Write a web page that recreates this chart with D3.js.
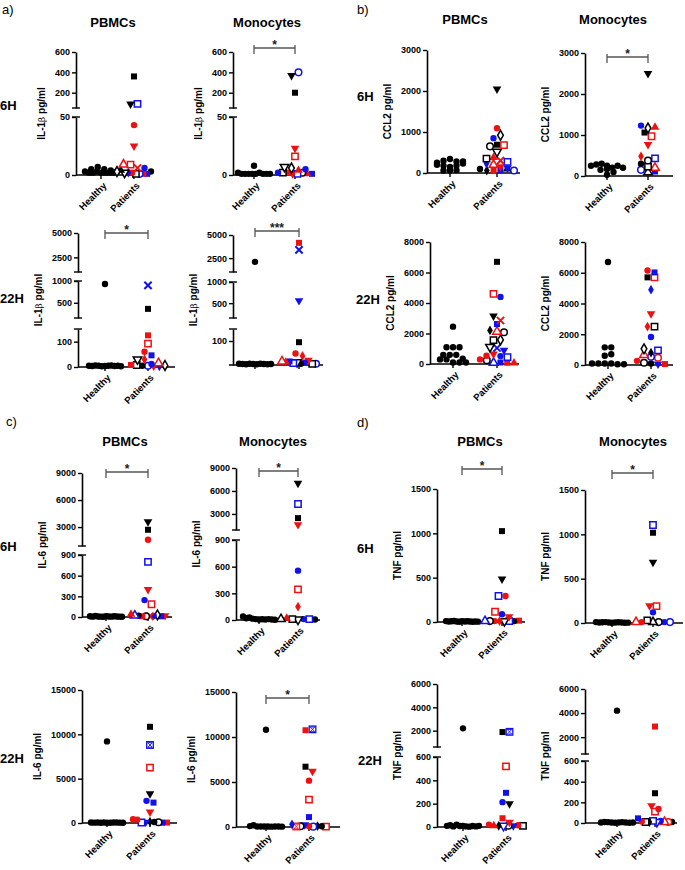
<!DOCTYPE html>
<html><head><meta charset="utf-8">
<script src="https://cdn.jsdelivr.net/npm/d3@7"></script>
<style>
body{margin:0;background:#fff}
svg{display:block}
text{font-family:Arial,"Liberation Sans",sans-serif}
</style>
</head><body>
<svg id="c" width="685" height="870"></svg>
<script>
// ---------------- DATA ----------------
// marker code: colour (k black, r red, b blue) + shape
// s filled square, S open square, o filled circle, O open circle, v filled tri-down, V open tri-down,
// ^ filled tri-up, A open tri-up, d filled diamond, D open diamond, x cross, X boxed hourglass
const groups = ["Healthy", "Patients"];

// a) IL-1β
const a6P_healthy = [5,3,2,2,3,2,2,7,2,2,5,3,4];
const a6P_patients = [["ks",360],["kv",90],["bS",90],["ro",43],["rv",25],["rA",9],["rS",9],["rx",6],["bo",6],["kD",3],["k^",4],["kV",2],["bd",2],["ro",2],["kS",1],["bO",1],["rs",1],["bs",1],["ko",3]];
const a6M_healthy = [2,1,1,8,1,1,1,2,1,1,1];
const a6M_patients = [["kv",370],["bO",400],["ks",200],["rv",23],["rS",16],["kV",7],["kD",6],["r^",4],["bo",5],["bo",2],["kS",2],["ro",2],["rd",1],["bS",1],["kO",2],["r^",1],["bs",1]];
const a22P_healthy = [930,5,4,6,5,3,4,5,6,4,5,3];
const a22P_patients = [["bx",900],["ks",360],["rs",125],["rS",92],["ro",60],["bs",46],["kV",30],["rd",30],["bo",12],["rA",15],["rs",8],["kS",8],["ko",5],["bO",5],["rv",4],["bv",3],["kD",6]];
const a22M_healthy = [2100,5,4,3,5,4,3,5,4,3,4];
const a22M_patients = [["rs",4150],["bx",3400],["bv",560],["ks",95],["ro",48],["rd",38],["rA",15],["r^",12],["bs",15],["bS",8],["kV",12],["ko",5],["bo",10],["rv",20],["kS",5],["bO",5]];

// b) CCL2
const b6P_healthy = [250,300,340,200,280,180,150,60,60,70,180,280,230];
const b6P_patients = [["kv",2050],["ro",1090],["bo",850],["kD",920],["kO",650],["ks",690],["rS",680],["kV",520],["kS",350],["r^",380],["rx",300],["bd",230],["bS",270],["rA",200],["rv",150],["bv",120],["ko",100],["kd",60],["rs",50],["bs",70],["k^",100],["bO",60]];
const b6M_healthy = [150,250,280,300,250,200,170,100,250,200,30];
const b6M_patients = [["kv",2500],["bo",1230],["kD",1170],["r^",1190],["ks",1060],["rS",970],["rv",770],["rd",480],["kO",380],["ko",300],["bS",430],["kS",230],["rA",200],["bO",150],["kA",90],["bs",110]];
const b22P_healthy = [2450,1100,1100,1100,600,600,600,300,300,350,100,100,100];
const b22P_patients = [["ks",6700],["rS",4600],["bo",4400],["kv",3150],["rx",2850],["bs",2620],["kd",2200],["rA",2120],["kO",2080],["kS",1560],["kD",1580],["kV",1120],["bx",1050],["bv",900],["ro",540],["rv",650],["bo",520],["bS",450],["ro",300],["kO",250],["bA",80],["bs",100],["rs",80],["r^",60]];
const b22M_healthy = [6700,1150,1150,600,700,100,100,100,100,50,50];
const b22M_patients = [["ro",6150],["bs",6020],["ks",5700],["rS",5700],["bd",4900],["rv",3330],["rd",2500],["kS",2500],["bo",1820],["kD",1050],["kd",800],["bS",950],["rA",650],["bO",540],["rO",470],["ro",270],["kO",150],["ko",100],["bv",60],["rs",60]];

// c) IL-6
const c6P_healthy = [10,5,15,8,5,3,12,8,5,10,7,5,3];
const c6P_patients = [["kv",3600],["ks",2700],["ro",1600],["bS",800],["rv",400],["bo",245],["rS",185],["r^",40],["bA",20],["ko",20],["rs",10],["kO",10],["rx",10],["bo",15],["kD",30],["bs",10],["rv",20]];
const c6M_healthy = [40,20,30,15,10,5,8,5,10,5,3];
const c6M_patients = [["kv",7000],["bS",4300],["ks",2450],["rv",1600],["bo",555],["rS",345],["rd",150],["kA",10],["r^",20],["kS",10],["kV",5],["bo",10],["bS",10],["ko",5]];
const c22P_healthy = [9200,50,40,60,30,50,40,30,50,60,40,30];
const c22P_patients = [["ks",10850],["bX",8800],["rS",6250],["kv",3300],["bo",2500],["bs",2300],["rv",1250],["ro",420],["ro",380],["bS",60],["bv",100],["kd",150],["ko",120],["kO",80],["bo",40],["rs",50]];
const c22M_healthy = [10800,100,200,50,50,50,50,40,50,50,40];
const c22M_patients = [["rs",10750],["bX",10850],["ks",6700],["rv",6200],["ro",5150],["rS",3050],["bs",1100],["bd",300],["rX",60],["kO",80],["bv",250],["ro",90],["bO",40],["kd",100],["ko",80],["rS",40]];

// d) TNF
const d6P_healthy = [10,5,8,12,5,3,10,5,8,5,3,6,4];
const d6P_patients = [["ks",1025],["kv",485],["bS",293],["ro",293],["rS",116],["bo",87],["rv",60],["bA",10],["kO",10],["ro",10],["rd",10],["kV",10],["bS",10],["ko",10],["rs",15]];
const d6M_healthy = [10,5,8,10,5,3,5,8,5,3,4];
const d6M_patients = [["bS",1105],["ks",1018],["kv",684],["rv",195],["rS",190],["bo",120],["rA",10],["ro",10],["kS",30],["kA",10],["kO",10],["bo",10],["bO",10]];
const d22P_healthy = [2200,10,15,5,20,8,10,5,3,8,5,10];
const d22P_patients = [["ks",1880],["bX",1900],["rS",520],["bs",293],["bo",213],["kv",200],["rs",75],["rv",40],["ro",20],["r^",10],["kd",10],["bV",10],["kO",10],["bv",10],["ro",15],["kS",10]];
const d22M_healthy = [4200,5,10,8,5,3,5,8,5,3,5];
const d22M_patients = [["rs",2880],["ks",288],["rv",168],["ro",135],["rS",110],["bs",45],["ro",15],["kS",10],["kd",10],["bS",20],["bV",10],["bo",20],["rA",10],["rO",10],["ko",10]];

// tick values
const ilb6Lower = [0,50], ilb6Upper = [200,400,600];
const ilb22Low = [0,100], ilb22Mid = [500,1000], ilb22Up = [2500,5000];
const ccl6Ticks = [0,1000,2000,3000], ccl22Ticks = [0,2000,4000,6000,8000];
const il6Lower = [0,300,600,900], il6Upper = [3000,6000,9000], il6_22Ticks = [0,5000,10000,15000];
const tnf6Ticks = [0,500,1000,1500], tnf22Lower = [0,200,400,600], tnf22Upper = [2000,4000,6000];

// ---------------- LAYOUT ----------------
const IL1B = "IL-1β pg/ml", CCL2 = "CCL2 pg/ml", IL6 = "IL-6 pg/ml", TNF = "TNF pg/ml";
const plots = [
  {h:a6P_healthy, p:a6P_patients, lab:IL1B, ax:76, xe:147, hx:101, px:134,
   segs:[{d:[0,50],r:[175,117],t:ilb6Lower},{d:[50,600],r:[108,52],t:ilb6Upper}]},
  {h:a6M_healthy, p:a6M_patients, lab:IL1B, ax:233, xe:315, hx:254, px:295, sig:[48,"*"],
   segs:[{d:[0,50],r:[175,117],t:ilb6Lower},{d:[50,600],r:[108,52],t:ilb6Upper}]},
  {h:a22P_healthy, p:a22P_patients, lab:IL1B, ax:78, xe:175, hx:105, px:148, sig:[233,"*"],
   segs:[{d:[0,150],r:[367,329],t:ilb22Low},{d:[150,1000],r:[318,281],t:ilb22Mid},{d:[1000,5000],r:[272,233],t:ilb22Up}]},
  {h:a22M_healthy, p:a22M_patients, lab:IL1B, ax:233, xe:323, hx:255, px:299, sig:[231,"***"], noX:true,
   segs:[{d:[0,150],r:[365,329],t:[100]},{d:[150,1000],r:[318,282],t:ilb22Mid},{d:[1000,5000],r:[272,235],t:ilb22Up}]},

  {h:b6P_healthy, p:b6P_patients, lab:CCL2, ax:427, xe:520, hx:450, px:497,
   segs:[{d:[0,3000],r:[173,50],t:ccl6Ticks}]},
  {h:b6M_healthy, p:b6M_patients, lab:CCL2, ax:585, xe:673, hx:607, px:648, sig:[57,"*"],
   segs:[{d:[0,3000],r:[176,53],t:ccl6Ticks}]},
  {h:b22P_healthy, p:b22P_patients, lab:CCL2, ax:430, xe:519, hx:453, px:497,
   segs:[{d:[0,8000],r:[364,242],t:ccl22Ticks}]},
  {h:b22M_healthy, p:b22M_patients, lab:CCL2, ax:585, xe:673, hx:608, px:651,
   segs:[{d:[0,8000],r:[365,242],t:ccl22Ticks}]},

  {h:c6P_healthy, p:c6P_patients, lab:IL6, ax:82, xe:172, hx:106, px:148, sig:[472,"*"],
   segs:[{d:[0,900],r:[617,555],t:il6Lower},{d:[900,9000],r:[546,473],t:il6Upper}]},
  {h:c6M_healthy, p:c6M_patients, lab:IL6, ax:236, xe:320, hx:259, px:298, sig:[471,"*"],
   segs:[{d:[0,900],r:[620,540],t:il6Lower},{d:[900,9000],r:[530,468],t:il6Upper}]},
  {h:c22P_healthy, p:c22P_patients, lab:IL6, ax:82, xe:177, hx:107, px:150,
   segs:[{d:[0,15000],r:[823,690],t:il6_22Ticks}]},
  {h:c22M_healthy, p:c22M_patients, lab:IL6, ax:236, xe:340, hx:266, px:309, sig:[698,"*"],
   segs:[{d:[0,15000],r:[827,692],t:il6_22Ticks}]},

  {h:d6P_healthy, p:d6P_patients, lab:TNF, ax:437, xe:525, hx:462, px:502, sig:[469,"*"],
   segs:[{d:[0,1500],r:[622,489],t:tnf6Ticks}]},
  {h:d6M_healthy, p:d6M_patients, lab:TNF, ax:585, xe:683, hx:612, px:653, sig:[473,"*"],
   segs:[{d:[0,1500],r:[623,490],t:tnf6Ticks}]},
  {h:d22P_healthy, p:d22P_patients, lab:TNF, ax:437, xe:525, hx:463, px:506,
   segs:[{d:[0,600],r:[827,757],t:tnf22Lower},{d:[600,6000],r:[747,684],t:tnf22Upper}]},
  {h:d22M_healthy, p:d22M_patients, lab:TNF, ax:585, xe:677, hx:617, px:655,
   segs:[{d:[0,600],r:[823,761],t:tnf22Lower},{d:[600,6000],r:[754,689],t:tnf22Upper}]},
];

const texts = [
  {t:"a)", x:2, y:14, w:"normal", s:13},
  {t:"b)", x:357, y:14, w:"normal", s:13},
  {t:"c)", x:6, y:426, w:"normal", s:13},
  {t:"d)", x:357, y:427, w:"normal", s:13},
  {t:"PBMCs", x:113, y:27, a:"middle"}, {t:"Monocytes", x:267, y:27, a:"middle"},
  {t:"PBMCs", x:465, y:24, a:"middle"}, {t:"Monocytes", x:613, y:24, a:"middle"},
  {t:"PBMCs", x:125, y:446, a:"middle"}, {t:"Monocytes", x:273, y:446, a:"middle"},
  {t:"PBMCs", x:480, y:446, a:"middle"}, {t:"Monocytes", x:633, y:446, a:"middle"},
  {t:"6H", x:0, y:110}, {t:"22H", x:0, y:303},
  {t:"6H", x:357, y:101}, {t:"22H", x:356, y:304},
  {t:"6H", x:0, y:551}, {t:"22H", x:0, y:763},
  {t:"6H", x:357, y:553}, {t:"22H", x:358, y:765},
];

// ---------------- DRAW ----------------
const svg = d3.select("#c");
const COL = {k:"#000000", r:"#ee1111", b:"#1111ee"};

texts.forEach(o => {
  svg.append("text").attr("x", o.x).attr("y", o.y)
    .attr("text-anchor", o.a || "start")
    .attr("font-weight", o.w || "bold").attr("font-size", o.s || 13)
    .attr("fill", "#000").text(o.t);
});

function drawMarker(g, code, x, y) {
  const c = COL[code[0]], s = code.slice(1);
  const open = "SOVADX".includes(s);
  let type, size = 30, rot = 0;
  switch (s) {
    case "s": case "S": type = d3.symbolSquare; size = s === "S" ? 40 : 36; break;
    case "o": case "O": type = d3.symbolCircle; size = s === "O" ? 34 : 32; break;
    case "v": case "V": type = d3.symbolTriangle; rot = 180; size = 32; break;
    case "^": case "A": type = d3.symbolTriangle; size = 32; break;
    case "d": case "D": type = d3.symbolDiamond; size = 28; break;
    case "x": type = d3.symbolX; size = 36; break;
    case "X": type = null; break;
  }
  const tr = `translate(${x},${y})` + (rot ? ` rotate(${rot})` : "");
  if (s === "X") {
    const h = 3.3;
    g.append("rect").attr("x", x - h).attr("y", y - h).attr("width", 2*h).attr("height", 2*h)
      .attr("fill", "#fff").attr("stroke", c).attr("stroke-width", 1.3);
    g.append("path").attr("d", `M${x-h+1},${y-h+1}L${x+h-1},${y-h+1}L${x-h+1},${y+h-1}L${x+h-1},${y+h-1}Z`)
      .attr("fill", "none").attr("stroke", c).attr("stroke-width", 0.9);
    return;
  }
  const p = g.append("path").attr("d", d3.symbol().type(type).size(size)()).attr("transform", tr);
  if (s === "x") p.attr("fill", "none").attr("stroke", c).attr("stroke-width", 2);
  else if (open) p.attr("fill", "#fff").attr("stroke", c).attr("stroke-width", 1.5);
  else p.attr("fill", c);
}

// Prism-like spread: points grouped in horizontal bands, each band spread evenly around the centre
function spread(points, cx, bandH, maxW, step) {
  const idx = points.map((p, i) => i).sort((a, b) => points[a].y - points[b].y);
  let band = [];
  const flush = () => {
    if (!band.length) return;
    const n = band.length;
    const sp = n > 1 ? Math.min(step, maxW / (n - 1)) : 0;
    band.sort((a, b) => a - b).forEach((i, k) => { points[i].x = cx + (k - (n - 1) / 2) * sp; });
    band = [];
  };
  let start = null;
  idx.forEach(i => {
    if (start === null || points[i].y - start > bandH) { flush(); start = points[i].y; }
    band.push(i);
  });
  flush();
}

plots.forEach(P => {
  const g = svg.append("g");
  const segs = P.segs.map(s => ({...s, sc: d3.scaleLinear().domain(s.d).range(s.r)}));
  const yv = v => {
    for (const s of segs) if (v >= s.d[0] && v <= s.d[1]) return s.sc(v);
    return segs[segs.length - 1].sc(segs[segs.length - 1].d[1]);
  };
  const y0 = segs[0].r[0];
  let maxChars = 0;
  segs.forEach((s, i) => {
    const axis = d3.axisLeft(s.sc).tickValues(s.t).tickSize(4).tickSizeOuter(0).tickPadding(2)
      .tickFormat(d3.format("d"));
    const ag = g.append("g").attr("transform", `translate(${P.ax},0)`).call(axis);
    ag.select(".domain").attr("stroke", "#000").attr("stroke-width", 1.6);
    ag.selectAll(".tick line").attr("stroke", "#000").attr("stroke-width", 1.4);
    ag.selectAll(".tick text").attr("font-size", 9).attr("font-weight", "bold")
      .attr("fill", "#000").attr("font-family", "Arial, 'Liberation Sans', sans-serif");
    s.t.forEach(t => maxChars = Math.max(maxChars, String(t).length));
    if (i > 0) g.append("line").attr("x1", P.ax - 4).attr("x2", P.ax + 4)
      .attr("y1", s.r[0]).attr("y2", s.r[0]).attr("stroke", "#000").attr("stroke-width", 1.4);
    if (i < segs.length - 1) g.append("line").attr("x1", P.ax - 4).attr("x2", P.ax + 4)
      .attr("y1", s.r[1]).attr("y2", s.r[1]).attr("stroke", "#000").attr("stroke-width", 1.4);
  });
  // x axis
  const xs = d3.scalePoint().domain(groups).range([P.hx, P.px]);
  g.append("line").attr("x1", P.ax - (P.noX ? 4 : 0)).attr("x2", P.xe).attr("y1", y0).attr("y2", y0)
    .attr("stroke", "#000").attr("stroke-width", 1.6);
  groups.forEach(gr => {
    g.append("line").attr("x1", xs(gr)).attr("x2", xs(gr)).attr("y1", y0).attr("y2", y0 + 4)
      .attr("stroke", "#000").attr("stroke-width", 1.4);
    if (!P.noX) g.append("text")
      .attr("transform", `translate(${xs(gr) + 4},${y0 + 9}) rotate(-45)`)
      .attr("text-anchor", "end").attr("dy", "0.35em")
      .attr("font-size", 9.5).attr("font-weight", "bold").text(gr);
  });
  // y label
  const top = segs[segs.length - 1].r[1];
  const lab = g.append("text")
    .attr("transform", `translate(${P.ax - 15 - 5.2 * maxChars},${(y0 + top) / 2}) rotate(-90)`)
    .attr("text-anchor", "middle").attr("font-size", 10).attr("font-weight", "bold");
  if (P.lab.includes("β")) {
    lab.append("tspan").text("IL-1");
    lab.append("tspan").attr("font-weight", "normal").attr("font-family", "DejaVu Serif, serif").attr("font-size", 9).text("β");
    lab.append("tspan").text(" pg/ml");
  } else lab.text(P.lab);
  // sig bar
  if (P.sig) {
    const [sy, st] = P.sig;
    g.append("path").attr("d", `M${P.hx},${sy-3}V${sy+6}M${P.hx},${sy}H${P.px}M${P.px},${sy-3}V${sy+6}`)
      .attr("fill", "none").attr("stroke", "#555").attr("stroke-width", 1.3);
    g.append("text").attr("x", (P.hx + P.px) / 2).attr("y", sy + 1).attr("text-anchor", "middle")
      .attr("font-size", 12).attr("font-weight", "bold").attr("fill", "#222").text(st);
  }
  // points
  const hp = P.h.map(v => ({code: "ko", y: yv(v)}));
  spread(hp, xs("Healthy"), 4.5, 32, 6.5);
  const pp = P.p.map(([c, v]) => ({code: c, y: yv(v)}));
  spread(pp, xs("Patients"), 5, 34, 7);
  const mg = g.append("g");
  hp.forEach(p => drawMarker(mg, p.code, p.x, p.y));
  pp.slice().reverse().forEach(p => drawMarker(mg, p.code, p.x, p.y));
});
</script>
</body></html>
